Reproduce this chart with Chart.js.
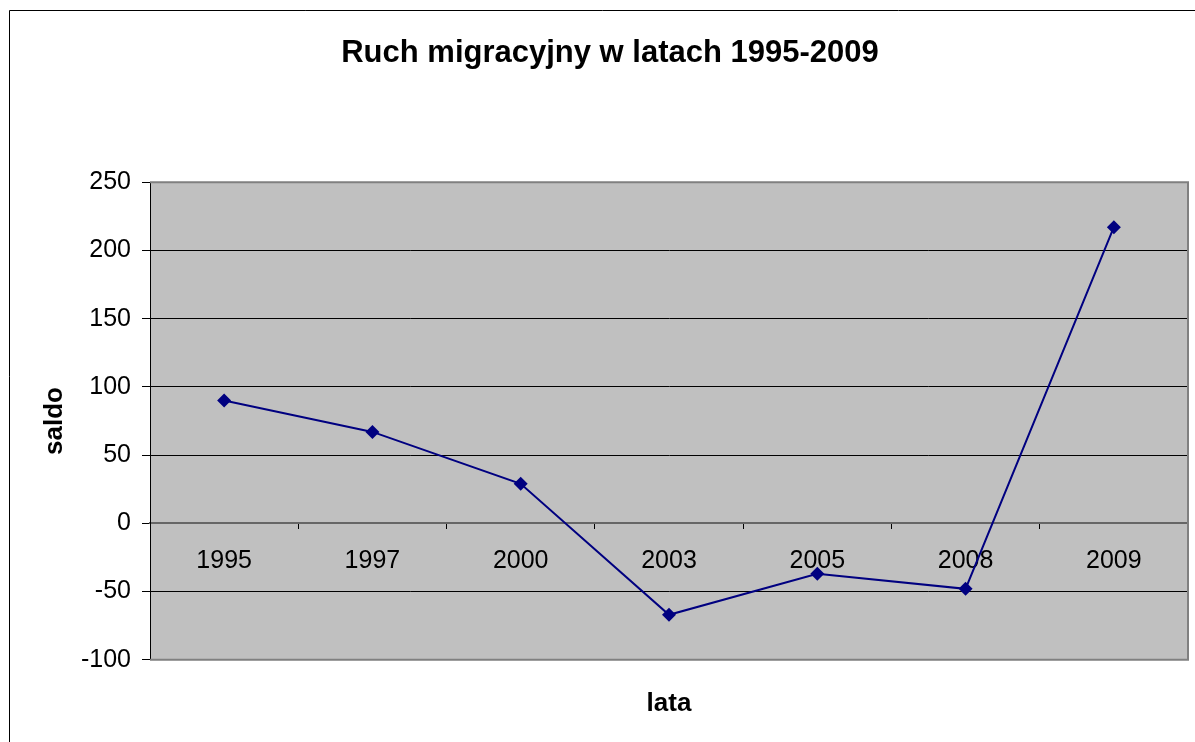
<!DOCTYPE html>
<html>
<head>
<meta charset="utf-8">
<script src="https://cdn.jsdelivr.net/npm/chart.js@4"></script>
<style>
  html, body { margin: 0; padding: 0; background: #fff; overflow: hidden; }
  #wrap { width: 1195px; height: 742px; position: relative; }
</style>
</head>
<body>
<div id="wrap"><canvas id="migracja"></canvas></div>
<script>
// data
const lata = ["1995", "1997", "2000", "2003", "2005", "2008", "2009"];
const saldo = [90, 67, 29, -67, -37, -48, 217];
const yTicks = [-100, -50, 0, 50, 100, 150, 200, 250];

const FONT = "'Liberation Sans', Arial, Helvetica, sans-serif";

// grey plot area + outer chart frame, Excel style
const excelBackground = {
  id: 'excelBackground',
  beforeDraw(chart) {
    const { ctx, chartArea: a } = chart;
    ctx.save();
    ctx.fillStyle = '#ffffff';
    ctx.fillRect(0, 0, chart.width, chart.height);
    // outer frame (continues off the picture on right / bottom)
    ctx.strokeStyle = '#000000';
    ctx.lineWidth = 1;
    ctx.beginPath();
    ctx.moveTo(9.5, chart.height);
    ctx.lineTo(9.5, 10.5);
    ctx.lineTo(chart.width, 10.5);
    ctx.stroke();
    // plot area
    ctx.fillStyle = '#c0c0c0';
    ctx.fillRect(a.left, a.top, a.right - a.left, a.bottom - a.top);
    ctx.restore();
  },
  beforeDatasetsDraw(chart) {
    const { ctx, chartArea: a } = chart;
    ctx.save();
    ctx.strokeStyle = '#808080';
    ctx.lineWidth = 2;
    ctx.beginPath();
    ctx.moveTo(a.left, a.top);
    ctx.lineTo(a.right, a.top);
    ctx.lineTo(a.right, a.bottom);
    ctx.lineTo(a.left, a.bottom);
    ctx.stroke();
    ctx.restore();
  }
};

document.addEventListener('DOMContentLoaded', function() {
  const ctx = document.getElementById('migracja').getContext('2d');
  new Chart(ctx, {
    type: 'line',
    data: {
      labels: lata,
      datasets: [{
        label: 'saldo',
        data: saldo,
        borderColor: '#000080',
        backgroundColor: '#000080',
        borderWidth: 2,
        pointStyle: 'rectRot',
        pointRadius: 7,
        pointBorderWidth: 0,
        tension: 0,
        fill: false
      }]
    },
    options: {
      responsive: true,
      maintainAspectRatio: false,
      animation: false,
      layout: { padding: { left: 32, right: 7, top: 0, bottom: 0 } },
      plugins: {
        legend: { display: false },
        tooltip: { enabled: false },
        title: {
          display: true,
          text: 'Ruch migracyjny w latach 1995-2009',
          color: '#000',
          font: { family: FONT, size: 31, weight: 'bold', lineHeight: 1.2 },
          padding: { top: 35, bottom: 110 }
        }
      },
      scales: {
        x: {
          type: 'category',
          offset: true,
          position: { y: 0 },
          grid: {
            offset: true,
            drawOnChartArea: false,
            drawTicks: true,
            tickLength: 5,
            tickColor: '#000'
          },
          border: { display: true, color: '#666666', width: 2 },
          ticks: {
            color: '#000',
            font: { family: FONT, size: 25 },
            padding: 18,
            maxRotation: 0,
            autoSkip: false
          }
        },
        x2: {
          type: 'category',
          position: 'bottom',
          labels: lata,
          grid: { display: false, drawTicks: false },
          border: { display: false },
          ticks: { display: false },
          title: {
            display: true,
            text: 'lata',
            color: '#000',
            font: { family: FONT, size: 26, weight: 'bold', lineHeight: 1.2 },
            padding: { top: 28, bottom: 23 }
          }
        },
        y: {
          min: -100,
          max: 250,
          afterFit(scale) { scale.width = 118; },
          afterBuildTicks(scale) { scale.ticks = yTicks.map(v => ({ value: v })); },
          grid: {
            color: (c) => c.tick && c.tick.value === 250 ? '#808080' : (c.tick && c.tick.value === 0 ? 'rgba(0,0,0,0)' : '#000'),
            tickColor: '#000',
            tickLength: 8,
            lineWidth: 1
          },
          border: { display: true, color: '#000', width: 1 },
          ticks: {
            color: '#000',
            font: { family: FONT, size: 25 },
            padding: 11
          },
          title: {
            display: true,
            text: 'saldo',
            color: '#000',
            font: { family: FONT, size: 26, weight: 'bold', lineHeight: 1.2 },
            padding: { top: 7, bottom: 0 }
          }
        }
      }
    },
    plugins: [excelBackground]
  });
});
</script>
</body>
</html>
